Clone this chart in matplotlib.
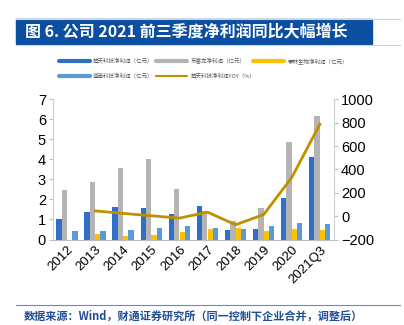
import matplotlib
matplotlib.use("Agg")
import matplotlib.pyplot as plt
from matplotlib.lines import Line2D
from matplotlib.patches import Rectangle
import numpy as np

plt.rcParams['font.family'] = ['Liberation Sans', 'Noto Sans CJK SC', 'DejaVu Sans']

categories = ["2012", "2013", "2014", "2015", "2016", "2017", "2018", "2019", "2020", "2021Q3"]
chutian = [1.0, 1.38, 1.62, 1.58, 1.25, 1.65, 0.45, 0.5, 2.05, 4.1]
dongfulong = [2.47, 2.87, 3.58, 4.0, 2.5, 1.4, 0.92, 1.56, 4.86, 6.15]
tailin = [0.0, 0.28, 0.16, 0.21, 0.35, 0.51, 0.56, 0.4, 0.53, 0.47]
jianan = [0.41, 0.40, 0.48, 0.58, 0.66, 0.56, 0.51, 0.66, 0.83, 0.77]
chutian_yoy = [np.nan, 45, 23, 3, -17, 34, -74, 14, 332, 788]

labels = ["楚天科技净利润（亿元）", "东富龙净利润（亿元）", "泰林生物净利润（亿元）",
          "迦南科技净利润（亿元）", "楚天科技净利润YOY（%）"]

c_blue = "#2F6FC6"
c_gray = "#B4B4B4"
c_yel = "#FFC000"
c_lb = "#5B9BD5"
c_line = "#C09000"

fig = plt.figure(figsize=(4.04, 3.25), dpi=100)
W, H = 404, 325

# Title bar
fig.patches.append(Rectangle((15.5 / W, 1 - 44 / H), (372 - 15.5) / W, 25 / H,
                             transform=fig.transFigure, color="#0B4EA2", zorder=0))
fig.add_artist(Line2D([15.5 / W, 400 / W], [1 - 18.5 / H] * 2, color="#C8D3E6", lw=0.8))
fig.add_artist(Line2D([15.5 / W, 400 / W], [1 - 44.5 / H] * 2, color="#C8D3E6", lw=0.8))
fig.text(25 / W, 1 - 31.5 / H, "图 6. 公司 2021 前三季度净利润同比大幅增长",
         color="white", fontsize=11.5, fontweight="bold", va="center", ha="left",
         family=['Noto Sans CJK SC', 'DejaVu Sans'])

ax = fig.add_axes([53 / W, 1 - 239.5 / H, (334 - 53) / W, (239.5 - 99.3) / H])
x = np.arange(len(categories))
w = 0.19
ax.bar(x - 0.29, chutian, w, color=c_blue, zorder=2)
ax.bar(x - 0.10, dongfulong, w, color=c_gray, zorder=1)
ax.bar(x + 0.10, tailin, w, color=c_yel, zorder=2)
ax.bar(x + 0.28, jianan, w, color=c_lb, zorder=2)
ax.set_xlim(-0.5, len(categories) - 0.5)
ax.set_ylim(0, 7)
ax.set_yticks(range(0, 8))
ax.set_xticks(x)
ax.set_xticklabels(categories, rotation=45, ha="right", rotation_mode="anchor", fontsize=9.5)
ax.tick_params(axis="x", length=0, pad=3)
ax.tick_params(axis="y", labelsize=10.5, length=3, color="#BFBFBF", pad=2)
for s in ["top", "right"]:
    ax.spines[s].set_visible(False)
ax.spines["left"].set_color("#D0D0D0")
ax.spines["bottom"].set_color("#BFBFBF")

ax2 = ax.twinx()
ax2.plot(x, chutian_yoy, color=c_line, lw=2, zorder=3)
ax2.set_ylim(-200, 1000)
ax2.set_yticks(range(-200, 1001, 200))
ax2.tick_params(axis="y", labelsize=10.5, length=3, color="#BFBFBF", pad=2)
for s in ["top", "left", "bottom"]:
    ax2.spines[s].set_visible(False)
ax2.spines["right"].set_color("#D0D0D0")

# Legend
leg = [(59, 90, 93, 61, c_blue, 3, labels[0]),
       (156, 187, 191, 61, c_gray, 3, labels[1]),
       (253, 284, 288, 61, c_yel, 3, labels[2]),
       (59, 90, 93, 75.7, c_lb, 3, labels[3]),
       (156, 187, 191, 75.7, c_line, 1.5, labels[4])]
for x0, x1, tx, yy, c, lw, t in leg:
    fig.add_artist(Line2D([x0 / W, x1 / W], [1 - yy / H] * 2, color=c, lw=lw,
                          solid_capstyle="round"))
    fig.text(tx / W, 1 - yy / H, t, fontsize=4, color="#595959", va="center", ha="left",
             family=['Noto Sans CJK SC', 'DejaVu Sans'])

# Source
fig.add_artist(Line2D([15.5 / W, 400 / W], [1 - 305 / H] * 2, color="#5B8FD0", lw=0.8))
fig.text(24 / W, 1 - 316 / H, "数据来源：Wind，财通证券研究所（同一控制下企业合并，调整后）",
         fontsize=8, color="#1F4E96", fontweight="bold", va="center", ha="left",
         family=['Noto Sans CJK SC', 'DejaVu Sans'])

fig.savefig("out.png", dpi=100)
